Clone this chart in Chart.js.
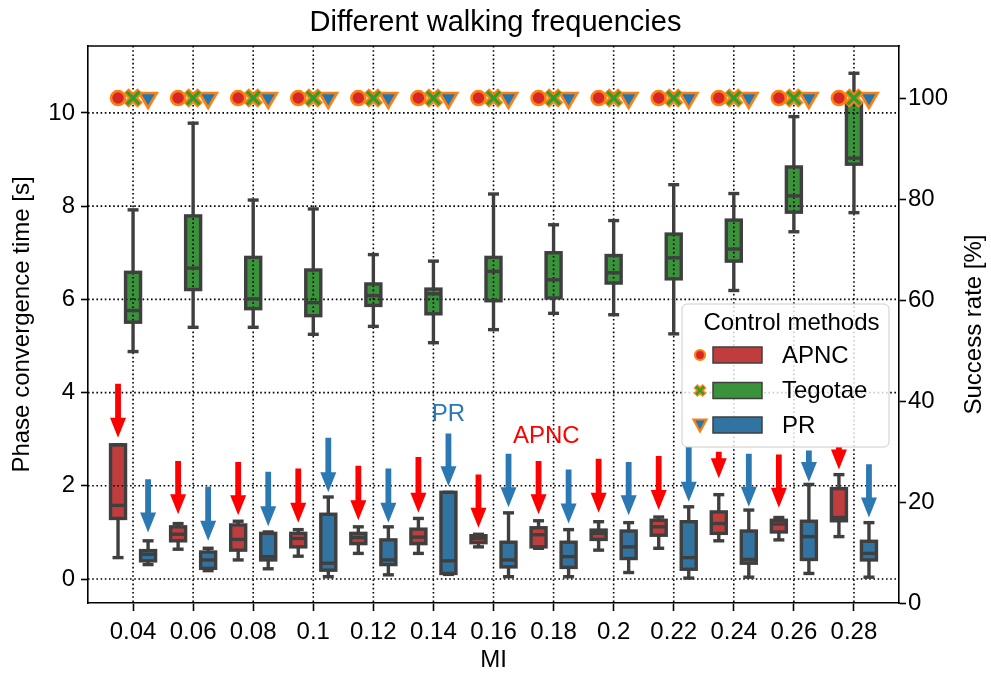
<!DOCTYPE html>
<html>
<head>
<meta charset="utf-8">
<script src="https://cdn.jsdelivr.net/npm/chart.js@4.4.1/dist/chart.umd.min.js"></script>
<style>
  html, body { margin: 0; padding: 0; background: #fff; }
  #wrap { width: 991px; height: 675px; }
</style>
</head>
<body>
<div id="wrap"><canvas id="chart" width="991" height="675"></canvas></div>
<script>
// MI values on the x axis
const miLabels = ['0.04', '0.06', '0.08', '0.1', '0.12', '0.14', '0.16', '0.18', '0.2', '0.22', '0.24', '0.26', '0.28']

// box stats per MI: [lower whisker, q1, median, q3, upper whisker] in seconds
const apncStats = [
  [0.46, 1.30, 1.58, 2.88, 2.88], [0.64, 0.82, 0.96, 1.12, 1.19], [0.41, 0.62, 0.85, 1.16, 1.24],
  [0.49, 0.69, 0.87, 0.98, 1.06], [0.55, 0.76, 0.89, 0.98, 1.12], [0.55, 0.76, 0.90, 1.07, 1.30],
  [0.69, 0.78, 0.87, 0.93, 0.96], [0.66, 0.69, 0.95, 1.10, 1.25], [0.62, 0.85, 0.98, 1.05, 1.23],
  [0.66, 0.94, 1.12, 1.26, 1.33], [0.82, 0.98, 1.19, 1.44, 1.81], [0.84, 1.01, 1.18, 1.26, 1.32],
  [0.91, 1.25, 1.32, 1.94, 2.24]
]
const tegotaeStats = [
  [4.88, 5.51, 5.76, 6.58, 7.92], [5.40, 6.21, 6.67, 7.79, 9.78], [5.40, 5.80, 6.01, 6.90, 8.13],
  [5.25, 5.65, 5.93, 6.63, 7.94], [5.42, 5.87, 6.08, 6.33, 6.96], [5.07, 5.69, 6.12, 6.22, 6.82],
  [5.35, 5.97, 6.60, 6.90, 8.26], [5.70, 6.03, 6.42, 7.00, 7.60], [5.67, 6.35, 6.57, 6.94, 7.69],
  [5.26, 6.44, 6.89, 7.40, 8.46], [6.19, 6.82, 7.08, 7.70, 8.27], [7.45, 7.87, 8.22, 8.84, 9.92],
  [7.86, 8.90, 9.03, 10.21, 10.85]
]
const prStats = [
  [0.31, 0.39, 0.53, 0.61, 0.82], [0.18, 0.23, 0.41, 0.58, 0.66], [0.22, 0.41, 0.48, 0.98, 1.01],
  [0.05, 0.19, 0.34, 1.39, 1.76], [0.09, 0.31, 0.41, 0.84, 1.12], [0.10, 0.12, 0.39, 1.86, 1.86],
  [0.05, 0.26, 0.41, 0.79, 1.42], [0.05, 0.25, 0.48, 0.79, 1.06], [0.14, 0.44, 0.69, 1.03, 1.21],
  [0.02, 0.21, 0.46, 1.23, 1.55], [0.04, 0.34, 0.42, 1.03, 1.48], [0.12, 0.42, 0.91, 1.24, 2.03],
  [0.04, 0.41, 0.55, 0.81, 1.21]
]

// success rate [%]
const apncSuccess = [100, 100, 100, 100, 100, 100, 100, 100, 100, 100, 100, 100, 100]
const tegotaeSuccess = [100, 100, 100, 100, 100, 100, 100, 100, 100, 100, 100, 100, 100]
const prSuccess = [100, 100, 100, 100, 100, 100, 100, 100, 100, 100, 100, 100, 100]

// arrows over the boxes: [tail, tip] in seconds (visible part)
const apncArrows = [
  [4.19, 3.03], [2.53, 1.39], [2.51, 1.37], [2.37, 1.21], [2.43, 1.26], [2.62, 1.42], [2.24, 1.10],
  [2.53, 1.39], [2.58, 1.42], [2.64, 1.48], [2.73, 2.16], [2.67, 1.53], [2.83, 2.35]
]
const prArrows = [
  [2.14, 1.00], [1.98, 0.82], [2.30, 1.13], [3.03, 1.86], [2.37, 1.21], [3.12, 1.99], [2.69, 1.54],
  [2.35, 1.19], [2.51, 1.37], [2.83, 1.66], [2.69, 1.55], [2.76, 2.08], [2.46, 1.32]
]

const timeTicks = [0, 2, 4, 6, 8, 10]
const rateTicks = [0, 20, 40, 60, 80, 100]

const FONT = "'Liberation Sans', Arial, sans-serif"
const EDGE = '#3f3f3f'
const ORANGE = '#ff7f0e'

const methods = [
  { name: 'APNC', stats: apncStats, offset: -0.25, fill: '#c03d3e', mark: '#d62728', arrows: apncArrows, arrowColor: '#ff0000' },
  { name: 'Tegotae', stats: tegotaeStats, offset: 0, fill: '#3a923a', mark: '#2ca02c' },
  { name: 'PR', stats: prStats, offset: 0.25, fill: '#3274a1', mark: '#1f77b4', arrows: prArrows, arrowColor: '#2b78b2' },
]

const notes = [
  { text: 'PR', x: 5.25, y: 3.53, color: '#2b78b2' },
  { text: 'APNC', x: 6.88, y: 3.06, color: '#ff0000' },
]

function line(ctx, x1, y1, x2, y2) {
  ctx.beginPath()
  ctx.moveTo(x1, y1)
  ctx.lineTo(x2, y2)
  ctx.stroke()
}

function arrow(ctx, cx, yTail, yTip, color) {
  const shaft = 2.9, head = 8, headLen = 20
  const yHead = yTip - headLen
  ctx.fillStyle = color
  ctx.beginPath()
  ctx.moveTo(cx - shaft, yTail)
  ctx.lineTo(cx + shaft, yTail)
  ctx.lineTo(cx + shaft, yHead)
  ctx.lineTo(cx + head, yHead)
  ctx.lineTo(cx, yTip)
  ctx.lineTo(cx - head, yHead)
  ctx.lineTo(cx - shaft, yHead)
  ctx.closePath()
  ctx.fill()
}

// grid over box fills, then whiskers / outlines / medians / arrows
let overlayDone = false
const overlay = {
  id: 'overlay',
  beforeDraw() { overlayDone = false },
  beforeDatasetDraw(chart, args) {
    if (overlayDone || args.meta.type !== 'scatter') return
    overlayDone = true
    const { ctx, chartArea: a, scales: { x, y } } = chart
    ctx.save()
    ctx.beginPath()
    ctx.rect(a.left, a.top, a.right - a.left, a.bottom - a.top)
    ctx.clip()

    ctx.strokeStyle = '#000'
    ctx.lineWidth = 1.6
    ctx.setLineDash([1.6, 2.6])
    x.ticks.forEach(t => {
      const px = x.getPixelForValue(t.value)
      line(ctx, px, a.top, px, a.bottom)
    })
    y.ticks.forEach(t => {
      const py = y.getPixelForValue(t.value)
      line(ctx, a.left, py, a.right, py)
    })
    ctx.setLineDash([])

    const half = 7.5, cap = 5.5
    ctx.strokeStyle = EDGE
    ctx.lineWidth = 3.4
    methods.forEach(m => {
      m.stats.forEach((s, i) => {
        const cx = x.getPixelForValue(i + m.offset)
        const [lo, q1, med, q3, hi] = s.map(v => y.getPixelForValue(v))
        line(ctx, cx, q3, cx, hi)
        line(ctx, cx, q1, cx, lo)
        line(ctx, cx - cap, hi, cx + cap, hi)
        line(ctx, cx - cap, lo, cx + cap, lo)
        ctx.strokeRect(cx - half, q3, 2 * half, q1 - q3)
        line(ctx, cx - half, med, cx + half, med)
      })
    })

    methods.filter(m => m.arrows).forEach(m => {
      m.arrows.forEach((ar, i) => {
        arrow(ctx, x.getPixelForValue(i + m.offset), y.getPixelForValue(ar[0]), y.getPixelForValue(ar[1]), m.arrowColor)
      })
    })

    ctx.font = '24px ' + FONT
    ctx.textAlign = 'center'
    ctx.textBaseline = 'middle'
    notes.forEach(n => {
      ctx.fillStyle = n.color
      ctx.fillText(n.text, x.getPixelForValue(n.x), y.getPixelForValue(n.y))
    })
    ctx.restore()
  },
  afterDraw(chart) {
    const { ctx, chartArea: a } = chart
    ctx.save()
    // top spine
    ctx.strokeStyle = '#000'
    ctx.lineWidth = 1.6
    line(ctx, a.left - 0.8, a.top, a.right + 0.8, a.top)

    // right axis title, reading bottom to top like the left one
    ctx.fillStyle = '#000'
    ctx.font = '24px ' + FONT
    ctx.textAlign = 'center'
    ctx.textBaseline = 'middle'
    ctx.translate(974, (a.top + a.bottom) / 2)
    ctx.rotate(-Math.PI / 2)
    ctx.fillText('Success rate [%]', 0, 0)
    ctx.restore()

    // legend
    ctx.save()
    const lx = 682, ly = 304, lw = 207, lh = 143
    ctx.fillStyle = 'rgba(255,255,255,0.8)'
    ctx.strokeStyle = '#cccccc'
    ctx.lineWidth = 1
    ctx.beginPath()
    ctx.roundRect(lx, ly, lw, lh, 5)
    ctx.fill()
    ctx.stroke()
    ctx.fillStyle = '#000'
    ctx.font = '24px ' + FONT
    ctx.textAlign = 'center'
    ctx.textBaseline = 'middle'
    ctx.fillText('Control methods', lx + lw / 2 + 6, 323)
    const rows = [355, 390.5, 425]
    methods.forEach((m, k) => {
      const ry = rows[k]
      ctx.fillStyle = m.fill
      ctx.strokeStyle = EDGE
      ctx.lineWidth = 1.5
      ctx.fillRect(713, ry - 8, 49, 16)
      ctx.strokeRect(713, ry - 8, 49, 16)
      ctx.fillStyle = '#000'
      ctx.textAlign = 'left'
      ctx.fillText(m.name, 782, ry + 1)
      // marker
      const mx = 700
      ctx.lineWidth = 2.2
      ctx.strokeStyle = ORANGE
      ctx.fillStyle = m.mark
      if (k === 0) {
        ctx.beginPath(); ctx.arc(mx, ry, 5, 0, Math.PI * 2); ctx.fill(); ctx.stroke()
      } else if (k === 1) {
        ctx.lineWidth = 5.5
        line(ctx, mx - 4.5, ry - 4.5, mx + 4.5, ry + 4.5); line(ctx, mx - 4.5, ry + 4.5, mx + 4.5, ry - 4.5)
        ctx.strokeStyle = m.mark; ctx.lineWidth = 2.4
        line(ctx, mx - 4, ry - 4, mx + 4, ry + 4); line(ctx, mx - 4, ry + 4, mx + 4, ry - 4)
      } else {
        ctx.beginPath(); ctx.moveTo(mx - 6.5, ry - 5.5); ctx.lineTo(mx + 6.5, ry - 5.5); ctx.lineTo(mx, ry + 6.5); ctx.closePath()
        ctx.fill(); ctx.stroke()
      }
    })
    ctx.restore()
  }
}

const boxSets = methods.map(m => ({
  type: 'bar',
  label: m.name,
  data: m.stats.map((s, i) => ({ x: i + m.offset, y: [s[1], s[3]] })),
  backgroundColor: m.fill,
  borderWidth: 0,
  barThickness: 15,
  grouped: false,
  yAxisID: 'y',
  order: 2,
}))

const rateData = (arr, off) => arr.map((v, i) => ({ x: i + off, y: v }))
const markerSets = [
  { type: 'scatter', label: 'APNC rate', data: rateData(apncSuccess, -0.25), yAxisID: 'y2', order: 1,
    pointStyle: 'circle', radius: 7, backgroundColor: '#d62728', borderColor: ORANGE, borderWidth: 2.6 },
  { type: 'scatter', label: 'Tegotae rate edge', data: rateData(tegotaeSuccess, 0), yAxisID: 'y2', order: 1,
    pointStyle: 'crossRot', radius: 10, borderColor: ORANGE, borderWidth: 7.5 },
  { type: 'scatter', label: 'Tegotae rate', data: rateData(tegotaeSuccess, 0), yAxisID: 'y2', order: 0,
    pointStyle: 'crossRot', radius: 9, borderColor: '#2ca02c', borderWidth: 3.4 },
  { type: 'scatter', label: 'PR rate', data: rateData(prSuccess, 0.25), yAxisID: 'y2', order: 1,
    pointStyle: 'triangle', rotation: 180, radius: 10, backgroundColor: '#1f77b4', borderColor: ORANGE, borderWidth: 2.6 },
]

const tickFont = { family: FONT, size: 24 }

new Chart(document.getElementById('chart'), {
  type: 'bar',
  data: { datasets: [...boxSets, ...markerSets] },
  options: {
    responsive: false,
    animation: false,
    devicePixelRatio: 1,
    events: [],
    layout: { padding: 0 },
    scales: {
      x: {
        type: 'linear',
        offset: false,
        min: -0.75,
        max: 12.75,
        afterBuildTicks: s => { s.ticks = miLabels.map((_, i) => ({ value: i })) },
        ticks: { callback: v => miLabels[v], font: tickFont, color: '#000', padding: 7, maxRotation: 0, autoSkip: false },
        grid: { drawOnChartArea: false, offset: false, tickLength: 8, tickColor: '#000', tickWidth: 1.6 },
        border: { display: true, color: '#000', width: 1.6 },
        title: { display: true, text: 'MI', font: tickFont, color: '#000', padding: { top: 0, bottom: 0 } },
        afterFit: s => { s.height = 72 },
      },
      y: {
        position: 'left',
        min: -0.514,
        max: 11.435,
        afterBuildTicks: s => { s.ticks = timeTicks.map(v => ({ value: v })) },
        ticks: { font: tickFont, color: '#000', padding: 6 },
        grid: { drawOnChartArea: false, tickLength: 7, tickColor: '#000', tickWidth: 1.6 },
        border: { display: true, color: '#000', width: 1.6 },
        title: { display: true, text: 'Phase convergence time [s]', font: tickFont, color: '#000', padding: { top: 8, bottom: 0 } },
        afterFit: s => { s.width = 88 },
      },
      y2: {
        position: 'right',
        min: 0,
        max: 110.3,
        afterBuildTicks: s => { s.ticks = rateTicks.map(v => ({ value: v })) },
        ticks: { font: tickFont, color: '#000', padding: 2 },
        grid: { drawOnChartArea: false, tickLength: 7, tickColor: '#000', tickWidth: 1.6 },
        border: { display: true, color: '#000', width: 1.6 },
        afterFit: s => { s.width = 92 },
      },
    },
    plugins: {
      legend: { display: false },
      tooltip: { enabled: false },
      title: {
        display: true,
        text: 'Different walking frequencies',
        font: { family: FONT, size: 29, weight: 'normal' },
        color: '#000',
        padding: { top: 6, bottom: 5.2 },
      },
    },
  },
  plugins: [overlay],
})
</script>
</body>
</html>
